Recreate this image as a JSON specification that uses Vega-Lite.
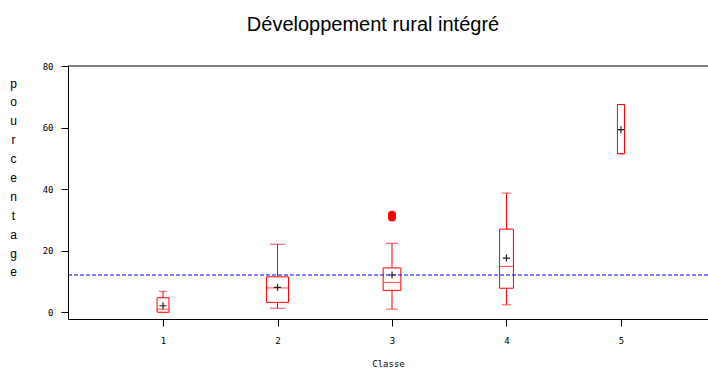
{
  "$schema": "https://vega.github.io/schema/vega-lite/v6.json",
  "autosize": {"type": "none"},
  "width": 640,
  "height": 253,
  "padding": {"left": 68, "top": 66, "right": 0, "bottom": 50},
  "background": "white",
  "title": {
    "text": "Développement rural intégré",
    "font": "Liberation Sans",
    "fontSize": 20,
    "fontWeight": "normal",
    "color": "black",
    "anchor": "middle",
    "dx": -15,
    "offset": 27
  },
  "datasets": {
    "boxes": [
      {"classe": 1, "n": 14, "min": 0, "q1": 0, "median": 1.0, "q3": 4.7, "max": 6.8, "mean": 2.1},
      {"classe": 2, "n": 48, "min": 1.3, "q1": 3.2, "median": 7.9, "q3": 11.5, "max": 22.1, "mean": 8.1},
      {"classe": 3, "n": 31, "min": 1.0, "q1": 7.1, "median": 9.7, "q3": 14.4, "max": 22.4, "mean": 12.1},
      {"classe": 4, "n": 19, "min": 2.4, "q1": 7.8, "median": 14.9, "q3": 27.0, "max": 38.7, "mean": 17.6},
      {"classe": 5, "n": 5, "min": 51.5, "q1": 51.5, "median": 59.3, "q3": 67.5, "max": 67.5, "mean": 59.3}
    ],
    "outliers": [
      {"classe": 3, "value": 30.8},
      {"classe": 3, "value": 31.7}
    ],
    "ref": [{"moyenne": 12.1}],
    "frame": [{"top": 80}]
  },
  "encoding": {
    "x": {
      "field": "classe",
      "type": "quantitative",
      "scale": {"domain": [0.17, 5.76], "nice": false, "zero": false, "padding": 0},
      "axis": {
        "values": [1, 2, 3, 4, 5],
        "format": "d",
        "grid": false,
        "title": "Classe",
        "domainColor": "black",
        "tickColor": "black",
        "tickSize": 7,
        "labelFont": "DejaVu Sans Mono",
        "labelFontSize": 9,
        "labelColor": "black",
        "labelPadding": 10,
        "titleFont": "DejaVu Sans Mono",
        "titleFontSize": 9,
        "titleFontWeight": "normal",
        "titleColor": "black",
        "titlePadding": 14
      }
    }
  },
  "layer": [
    {
      "data": {"name": "boxes"},
      "mark": {"type": "rule", "color": "#ff0000", "strokeWidth": 1},
      "encoding": {
        "y": {
          "field": "min",
          "type": "quantitative",
          "scale": {"domain": [-2.2, 80], "nice": false, "zero": false, "padding": 0},
          "axis": {
            "values": [0, 20, 40, 60, 80],
            "format": "d",
            "grid": false,
            "domainColor": "black",
            "tickColor": "black",
            "tickSize": 7,
            "labelFont": "DejaVu Sans Mono",
            "labelFontSize": 9,
            "labelColor": "black",
            "labelPadding": 8,
            "title": ["p", "o", "u", "r", "c", "e", "n", "t", "a", "g", "e"],
            "titleAngle": 0,
            "titleFont": "Liberation Sans",
            "titleFontSize": 12,
            "titleFontWeight": "normal",
            "titleColor": "black",
            "titleLineHeight": 18.9,
            "titleAlign": "center",
            "titleBaseline": "middle",
            "titleX": -55,
            "titleY": 17
          }
        },
        "y2": {"field": "max"}
      }
    },
    {
      "data": {"name": "boxes"},
      "mark": {"type": "tick", "orient": "horizontal", "color": "#ff0000", "thickness": 1},
      "encoding": {
        "y": {"field": "min", "type": "quantitative"},
        "size": {"field": "n", "type": "quantitative", "scale": {"type": "sqrt", "domain": [0, 48], "range": [0, 15]}, "legend": null}
      }
    },
    {
      "data": {"name": "boxes"},
      "mark": {"type": "tick", "orient": "horizontal", "color": "#ff0000", "thickness": 1},
      "encoding": {
        "y": {"field": "max", "type": "quantitative"},
        "size": {"field": "n", "type": "quantitative", "scale": {"type": "sqrt", "domain": [0, 48], "range": [0, 15]}, "legend": null}
      }
    },
    {
      "data": {"name": "boxes"},
      "mark": {"type": "bar", "fill": "white", "stroke": "#ff0000", "strokeWidth": 1},
      "encoding": {
        "y": {"field": "q1", "type": "quantitative"},
        "y2": {"field": "q3"},
        "size": {"field": "n", "type": "quantitative", "scale": {"type": "sqrt", "domain": [0, 48], "range": [0, 22]}, "legend": null}
      }
    },
    {
      "data": {"name": "boxes"},
      "mark": {"type": "tick", "orient": "horizontal", "color": "#ff0000", "thickness": 1},
      "encoding": {
        "y": {"field": "median", "type": "quantitative"},
        "size": {"field": "n", "type": "quantitative", "scale": {"type": "sqrt", "domain": [0, 48], "range": [0, 22]}, "legend": null}
      }
    },
    {
      "data": {"name": "ref"},
      "mark": {"type": "rule", "color": "#0000ff", "strokeWidth": 1, "strokeDash": [4, 2]},
      "encoding": {
        "x": null,
        "y": {"field": "moyenne", "type": "quantitative"}
      }
    },
    {
      "data": {"name": "boxes"},
      "mark": {"type": "point", "shape": "M-1,0L1,0M0,-1L0,1", "size": 49, "filled": false, "stroke": "#222222", "strokeWidth": 1.2, "opacity": 1},
      "encoding": {
        "y": {"field": "mean", "type": "quantitative"}
      }
    },
    {
      "data": {"name": "outliers"},
      "mark": {"type": "point", "shape": "circle", "size": 64, "filled": true, "color": "#ff0000", "opacity": 1},
      "encoding": {
        "y": {"field": "value", "type": "quantitative"}
      }
    },
    {
      "data": {"name": "frame"},
      "mark": {"type": "rule", "color": "black", "strokeWidth": 1},
      "encoding": {
        "x": null,
        "y": {"field": "top", "type": "quantitative"}
      }
    }
  ],
  "resolve": {"scale": {"size": "independent"}},
  "config": {
    "view": {"stroke": null},
    "axis": {"domainWidth": 1, "tickWidth": 1}
  }
}
